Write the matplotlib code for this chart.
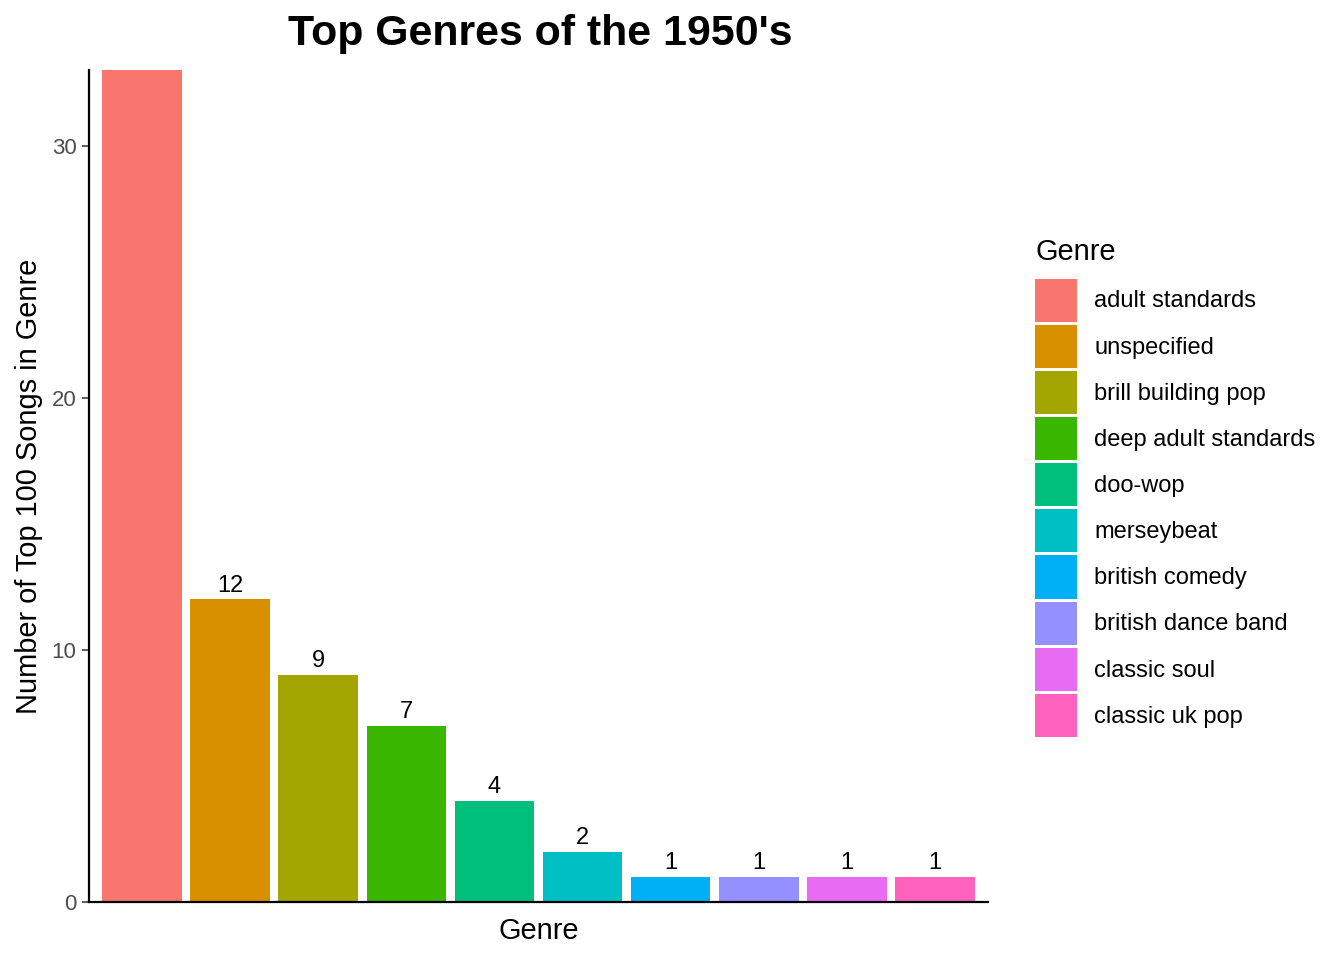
import matplotlib
matplotlib.use("Agg")
import matplotlib.pyplot as plt
from matplotlib.patches import Patch

plt.rcParams['font.family'] = ['Liberation Sans', 'DejaVu Sans']

# Data
genres = ['adult standards', 'unspecified', 'brill building pop', 'deep adult standards',
          'doo-wop', 'merseybeat', 'british comedy', 'british dance band',
          'classic soul', 'classic uk pop']
counts = [62, 12, 9, 7, 4, 2, 1, 1, 1, 1]
colors = ['#F8766D', '#D89000', '#A3A500', '#39B600', '#00BF7D',
          '#00BFC4', '#00B0F6', '#9590FF', '#E76BF3', '#FF62BC']
yticks = [0, 10, 20, 30]

fig = plt.figure(figsize=(13.44, 9.6), dpi=100)
ax = fig.add_axes([89/1344, 1 - 902/960, (988-89)/1344, (902-70)/960])

x = list(range(len(genres)))
ax.bar(x, counts, width=0.9, color=colors)
for xi, c in zip(x, counts):
    ax.annotate(str(c), (xi, c), xytext=(0, 2), textcoords='offset points',
                ha='center', va='bottom', fontsize=17, color='black', clip_on=True)

ax.set_xlim(-0.6, len(genres) - 0.4)
ax.set_ylim(0, 33)
ax.set_xticks([])
ax.set_yticks(yticks)
ax.tick_params(axis='y', labelsize=16, labelcolor='#4D4D4D', color='#333333',
               length=5, width=1.1, pad=4)
for s in ['top', 'right']:
    ax.spines[s].set_visible(False)
for s in ['left', 'bottom']:
    ax.spines[s].set_linewidth(1.6)
    ax.spines[s].set_color('black')

ax.set_xlabel('Genre', fontsize=20.9, labelpad=11)
ax.set_ylabel('Number of Top 100 Songs in Genre', fontsize=20.9, labelpad=6)
fig.text(540/1344, 1 - 34/960, "Top Genres of the 1950's", fontsize=30.9,
         fontweight='bold', ha='center', va='center')

handles = [Patch(facecolor=c, edgecolor='none') for c in colors]
leg = fig.legend(handles, genres, title='Genre', loc='upper left',
                 bbox_to_anchor=(1028/1344, 1 - 231/960), frameon=False,
                 fontsize=17, title_fontsize=20.9, alignment='left',
                 handlelength=1.78, handleheight=2.43, labelspacing=0.13,
                 handletextpad=0.72, borderaxespad=0, borderpad=0.3)
leg._legend_box.sep = 9

fig.savefig('out.png', dpi=100)
